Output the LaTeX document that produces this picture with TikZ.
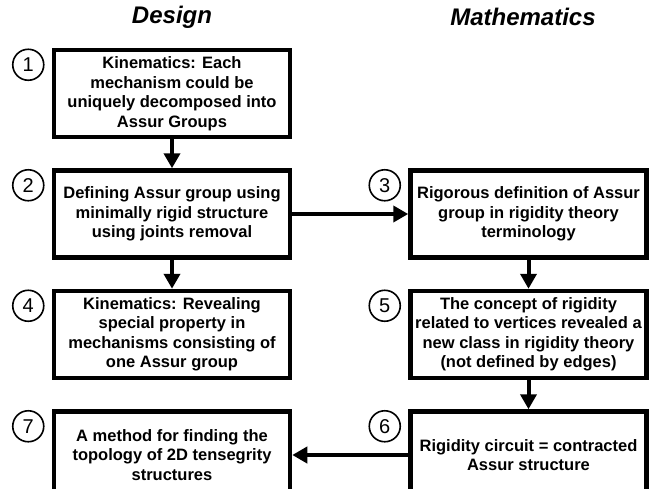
\documentclass[tikz,border=0pt]{standalone}
\usepackage{fontspec}
\setmainfont{Liberation Sans}
\usetikzlibrary{arrows.meta, positioning}

\begin{document}
\begin{tikzpicture}[x=1pt, y=-1pt,
  node distance=29pt and 116pt,
  box/.style={draw, line width=4.5pt, minimum width=236pt, minimum height=87pt,
              font=\fontsize{16.5}{19.5}\selectfont\bfseries, align=center, inner sep=1pt},
  num/.style={draw, circle, line width=1.6pt, minimum size=31pt, inner sep=0pt,
              font=\fontsize{20}{20}\selectfont},
  title/.style={font=\fontsize{24}{24}\selectfont\bfseries\itshape},
  arr/.style={-{Triangle[length=15pt, width=16pt]}, line width=4pt}
]
\useasboundingbox (0,0) rectangle (650,488);
\node[title] (tdes) at (172,17) {Design};
\node[title] (tmat) at (523,17) {Mathematics};
\node[box] (b1) at (172,93.5) {Kinematics: Each\\mechanism could be\\uniquely decomposed into\\Assur Groups};
\node[box, below=of b1] (b2) {Defining Assur group using\\minimally rigid structure\\using joints removal};
\node[box, right=of b2] (b3) {Rigorous definition of Assur\\group in rigidity theory\\terminology};
\node[box, below=of b2] (b4) {Kinematics: Revealing\\special property in\\mechanisms consisting of\\one Assur group};
\node[box, below=of b3] (b5) {The concept of rigidity\\related to vertices revealed a\\new class in rigidity theory\\(not defined by edges)};
\node[box, below=of b5] (b6) {Rigidity circuit = contracted\\Assur structure};
\node[box, below=of b4] (b7) {A method for finding the\\topology of 2D tensegrity\\structures};
\foreach \b/\n in {b1/1,b2/2,b3/3,b4/4,b5/5,b6/6,b7/7}
  \node[num] (n\n) at ([shift={(-23.5pt,-17pt)}]\b.north west) {\n};
\foreach \x/\y in {b1/b2,b2/b3,b2/b4,b3/b5,b5/b6,b6/b7} \draw[arr] (\x) -- (\y);
\end{tikzpicture}
\end{document}
